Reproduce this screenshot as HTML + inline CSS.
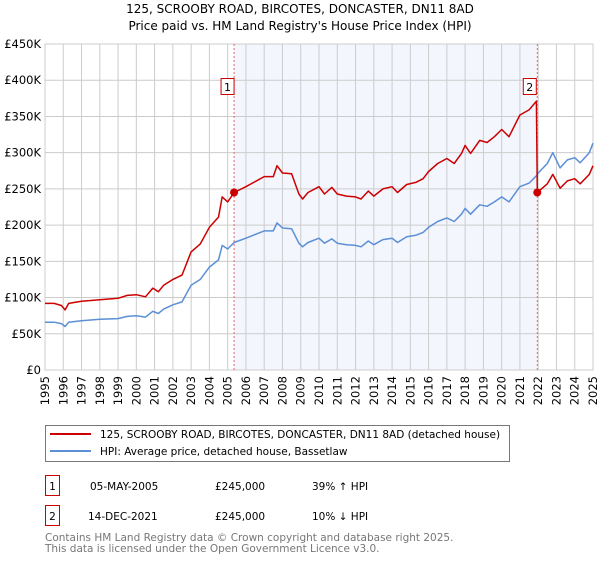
<!DOCTYPE html>
<html><head><meta charset="utf-8"><style>
body{margin:0;background:#fff;width:600px;height:560px;overflow:hidden}
svg text{font-family:"DejaVu Sans","Liberation Sans",sans-serif}
</style></head><body>
<svg id="c" width="600" height="560" xmlns="http://www.w3.org/2000/svg">
<text x="300" y="13" text-anchor="middle" font-size="12">125, SCROOBY ROAD, BIRCOTES, DONCASTER, DN11 8AD</text>
<text x="300" y="30" text-anchor="middle" font-size="12">Price paid vs. HM Land Registry's House Price Index (HPI)</text>
<g id="plot"></g>
<g>
<rect x="45.5" y="425.5" width="464" height="36" fill="#fff" stroke="#777"/>
<line x1="50" y1="434" x2="91" y2="434" stroke="#cc0000" stroke-width="2"/>
<text x="100" y="438" font-size="10.5">125, SCROOBY ROAD, BIRCOTES, DONCASTER, DN11 8AD (detached house)</text>
<line x1="50" y1="451" x2="91" y2="451" stroke="#5b8fd6" stroke-width="2"/>
<text x="100" y="455" font-size="10.5">HPI: Average price, detached house, Bassetlaw</text>
</g>
<g font-size="10.5">
<rect x="45.5" y="475.5" width="14" height="20" fill="#fff" stroke="#cc0000"/>
<text x="52.5" y="490" text-anchor="middle">1</text>
<text x="90" y="490">05-MAY-2005</text>
<text x="215" y="490">£245,000</text>
<text x="312" y="490">39% ↑ HPI</text>
<rect x="45.5" y="505.5" width="14" height="20" fill="#fff" stroke="#cc0000"/>
<text x="52.5" y="520" text-anchor="middle">2</text>
<text x="88" y="520">14-DEC-2021</text>
<text x="215" y="520">£245,000</text>
<text x="312" y="520">10% ↓ HPI</text>
</g>
<text x="45" y="541" font-size="10.5" fill="#777">Contains HM Land Registry data © Crown copyright and database right 2025.</text>
<text x="45" y="552" font-size="10.5" fill="#777">This data is licensed under the Open Government Licence v3.0.</text>
</svg>
<script>
const dates=[1995.0,1995.5,1995.9,1996.1,1996.3,1997,1998,1999,1999.5,2000,2000.5,2000.9,2001.2,2001.5,2002,2002.5,2003,2003.5,2004,2004.5,2004.7,2005.0,2005.35,2006,2007,2007.5,2007.7,2008,2008.5,2008.9,2009.1,2009.4,2010,2010.3,2010.7,2011,2011.5,2012,2012.3,2012.7,2013,2013.5,2014,2014.3,2014.8,2015.3,2015.7,2016,2016.5,2017,2017.4,2017.8,2018,2018.3,2018.8,2019.2,2019.6,2020,2020.4,2021,2021.5,2021.9,2022.0,2022.5,2022.8,2023.2,2023.6,2024,2024.3,2024.8,2025];
const hpiValues=[66,66,64,60,66,68,70,71,74,75,73,81,78,84,90,94,117,125,142,152,172,167,176,182,192,192,203,196,195,175,170,176,182,175,181,175,173,172,170,178,173,180,182,176,184,186,190,197,205,210,205,215,223,215,228,226,232,239,232,253,258,268,272,285,300,279,290,293,286,300,313];
const priceDates=[1995.0,1995.5,1995.9,1996.1,1996.3,1997,1998,1999,1999.5,2000,2000.5,2000.9,2001.2,2001.5,2002,2002.5,2003,2003.5,2004,2004.5,2004.7,2005.0,2005.35,2006,2007,2007.5,2007.7,2008,2008.5,2008.9,2009.1,2009.4,2010,2010.3,2010.7,2011,2011.5,2012,2012.3,2012.7,2013,2013.5,2014,2014.3,2014.8,2015.3,2015.7,2016,2016.5,2017,2017.4,2017.8,2018,2018.3,2018.8,2019.2,2019.6,2020,2020.4,2021,2021.5,2021.9,2021.95,2022.5,2022.8,2023.2,2023.6,2024,2024.3,2024.8,2025];
const priceValues=[92,92,89,83,92,95,97,99,103,104,101,113,108,117,125,131,163,174,197,211,239,232,245,253,267,267,282,272,271,243,236,245,253,243,252,243,240,239,236,247,240,250,253,245,256,259,264,274,285,292,285,299,310,299,317,314,322,332,322,352,359,371,245,257,270,251,261,264,257,270,282];
const saleDates=[2005.35,2021.95];
const salePrices=[245,245];
const saleLabels=["1","2"];
const yTicks=[0,50,100,150,200,250,300,350,400,450];
const yTickLabels=["£0","£50K","£100K","£150K","£200K","£250K","£300K","£350K","£400K","£450K"];
const xYears=[1995,1996,1997,1998,1999,2000,2001,2002,2003,2004,2005,2006,2007,2008,2009,2010,2011,2012,2013,2014,2015,2016,2017,2018,2019,2020,2021,2022,2023,2024,2025];

const NS="http://www.w3.org/2000/svg";
const L=45,R=593,T=44,B=370;
const xs=d=>L+(d-1995)/30*(R-L);
const ys=v=>B-v/450*(B-T);
const g=document.getElementById('plot');
function mk(t,a){const e=document.createElementNS(NS,t);for(const k in a)e.setAttribute(k,a[k]);g.appendChild(e);return e;}
const shade=mk('rect',{x:xs(saleDates[0]),y:T,width:xs(saleDates[1])-xs(saleDates[0]),height:B-T,fill:'#f3f6fd'});


yTicks.forEach((v,i)=>{
 const l=mk('line',{x1:L,x2:R,y1:ys(v),y2:ys(v),stroke:'#cccccc','stroke-width':1});
 
 
 const t=mk('text',{x:L-4,y:ys(v)+4,'text-anchor':'end','font-size':11.5});
 t.textContent=yTickLabels[i];
 
 
});
xYears.forEach(yr=>{
 const l=mk('line',{x1:xs(yr),x2:xs(yr),y1:T,y2:B,stroke:'#cccccc','stroke-width':1});
 
 
 const t=mk('text',{x:0,y:0,'text-anchor':'end','font-size':11.5,transform:`translate(${xs(yr)+4},${B+6}) rotate(-90)`});
 t.textContent=yr;
 
 
});
mk('rect',{x:L,y:T,width:R-L,height:B-T,fill:'none',stroke:'#cccccc'});
saleDates.forEach((d,i)=>{
 const l=mk('line',{x1:xs(d),x2:xs(d),y1:T,y2:B,stroke:'#ee6666','stroke-width':1,'stroke-dasharray':'2,2'});
 
 
});
function path(ds,vs,col,name){
 const p=mk('path',{d:ds.map((d,i)=>(i?'L':'M')+xs(d).toFixed(1)+','+ys(vs[i]).toFixed(1)).join(''),fill:'none',stroke:col,'stroke-width':1.5,'stroke-linejoin':'round'});
 
 
}
path(dates,hpiValues,'#5b8fd6','hpi-line');
path(priceDates,priceValues,'#cc0000','price-paid-line');
saleDates.forEach((d,i)=>{
 const c=mk('circle',{cx:xs(d),cy:ys(salePrices[i]),r:4,fill:'#cc0000'});
 
 
 const bx=xs(d)-(i?11:10)-3;
 const r=mk('rect',{x:bx,y:78.5,width:13,height:16,fill:'#fff',stroke:'#cc0000'});
 
 
 const t=mk('text',{x:bx+6.5,y:91,'text-anchor':'middle','font-size':11});
 t.textContent=saleLabels[i];
 
 
});
</script>
</body></html>
